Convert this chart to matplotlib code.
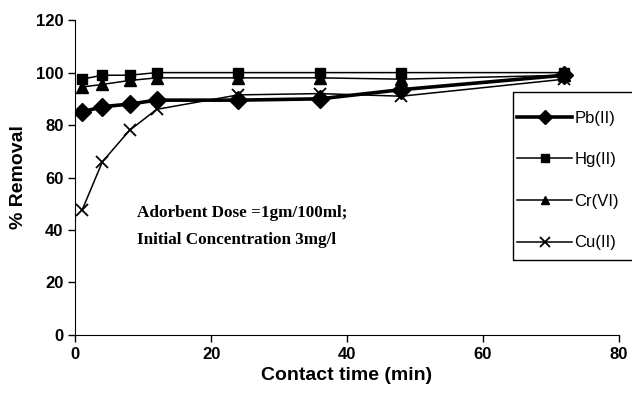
import matplotlib.pyplot as plt
from matplotlib.patches import Rectangle

# contact time (min)
time = [1, 4, 8, 12, 24, 36, 48, 72]

# % removal for each metal ion
pb = [85, 87, 88, 89.5, 89.5, 90, 93.5, 99]
hg = [97.5, 99, 99, 100, 100, 100, 100, 100]
cr = [94.5, 95.5, 97, 98, 98, 98, 97.5, 99]
cu = [47.5, 66, 78, 86, 91.5, 92, 91, 97.5]

plt.rcParams['font.family'] = ['Liberation Sans', 'DejaVu Sans']

fig = plt.figure(figsize=(6.32, 4.03), dpi=100)
ax = fig.add_axes([0.119, 0.169, 0.860, 0.781])

ax.plot(time, pb, color='black', lw=2.6, marker='D', ms=9, label='Pb(II)')
ax.plot(time, hg, color='black', lw=1.1, marker='s', ms=7, label='Hg(II)')
ax.plot(time, cr, color='black', lw=1.1, marker='^', ms=8, label='Cr(VI)')
ax.plot(time, cu, color='black', lw=1.1, marker='x', ms=9, mew=1.3, label='Cu(II)')

ax.set_xlim(0, 80)
ax.set_ylim(0, 120)
ax.set_xticks(range(0, 81, 20))
ax.set_yticks(range(0, 121, 20))
for s in ['top', 'right']:
    ax.spines[s].set_visible(False)
ax.tick_params(direction='out', length=5, width=1, labelsize=12)
for lbl in ax.get_xticklabels() + ax.get_yticklabels():
    lbl.set_fontweight('bold')

ax.set_xlabel('Contact time (min)', fontsize=14, fontweight='bold', labelpad=4)
ax.set_ylabel('% Removal', fontsize=14, fontweight='bold', labelpad=6)

ax.text(9.1, 46.5, 'Adorbent Dose =1gm/100ml;', family='Liberation Serif',
        fontweight='bold', fontsize=12.3, va='center')
ax.text(9.1, 36, 'Initial Concentration 3mg/l', family='Liberation Serif',
        fontweight='bold', fontsize=12.3, va='center')

# legend box runs off the right edge of the figure
fig.patches.append(Rectangle((513 / 632, 1 - 260 / 403), 0.3, 168 / 403,
                             transform=fig.transFigure, fill=False,
                             edgecolor='black', lw=1.0))
leg = fig.legend(loc='upper left', bbox_to_anchor=(517 / 632, 1 - 110.5 / 403),
                 fontsize=12, frameon=False, labelspacing=1.6,
                 handlelength=3.3, borderpad=0, handletextpad=0.15,
                 borderaxespad=0, markerscale=0.75)

fig.savefig('out.png', dpi=100)
